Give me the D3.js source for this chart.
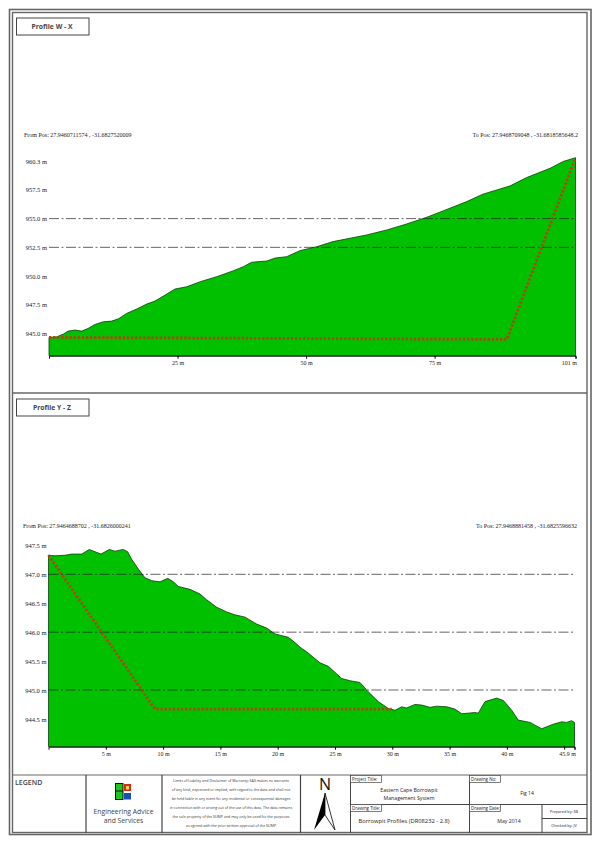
<!DOCTYPE html>
<html>
<head>
<meta charset="utf-8">
<script src="https://cdnjs.cloudflare.com/ajax/libs/d3/7.8.5/d3.min.js"></script>
<style>
  body { margin: 0; background: #fff; }
  svg { display: block; }
</style>
</head>
<body>
<div id="elements"></div>
<script>
// Profile W - X: distance (m), ground elevation (m)
const wxDistance = [0, 1.5, 2.8, 3.75, 5.06, 6.36, 7.59, 8.95, 10.56, 12.2, 13.5, 15.1, 17.06, 19, 20.6, 22.6, 24.5,
  26.8, 29.4, 32.6, 35.9, 37.8, 39.4, 42.35, 44, 46.25, 48.8, 52.1, 55.25, 58.56, 61.8, 65.7, 69.6, 73.5, 76.65,
  81.25, 84.4, 89.7, 92.9, 97.5, 100, 102.4];
const wxGround = [944.66, 944.71, 944.95, 945.21, 945.3, 945.21, 945.44, 945.79, 946.02, 946.08, 946.28, 946.75,
  947.13, 947.56, 947.82, 948.35, 948.87, 949.07, 949.51, 949.94, 950.47, 950.82, 951.2, 951.31, 951.57, 951.69,
  952.21, 952.56, 953, 953.29, 953.58, 954.01, 954.54, 955.12, 955.67, 956.48, 957.13, 957.85, 958.57, 959.39,
  959.97, 960.3];
const wxDesignDistance = [0, 89.05, 102.4];
const wxDesignLevel = [944.66, 944.49, 960.3];
const wxYTicks = [945, 947.5, 950, 952.5, 955, 957.5, 960.3];
const wxYLabels = ["945.0 m", "947.5 m", "950.0 m", "952.5 m", "955.0 m", "957.5 m", "960.3 m"];
const wxXTicks = [25, 50, 75, 102.4];
const wxXLabels = ["25 m", "50 m", "75 m", "101 m"];
const wxGrid = [952.5, 955];

// Profile Y - Z: distance (m), ground elevation (m)
const yzDistance = [0, 0.57, 1.44, 2.02, 2.9, 3.56, 4.06, 4.58, 5.31, 5.8, 6.53, 6.91, 7.26, 7.84, 8.42, 9, 9.73,
  10.4, 10.9, 11.33, 12.35, 13.22, 13.8, 14.68, 15.55, 16.27, 17.15, 18.17, 19.04, 19.76, 20.93, 21.51, 21.95,
  22.53, 23.69, 24.42, 25.58, 26.31, 27.18, 27.9, 28.78, 29.65, 30.24, 30.82, 31.25, 31.98, 32.57, 33.29, 33.87,
  34.75, 35.47, 36.06, 37.22, 37.5, 38.09, 39.11, 39.69, 40.42, 40.99, 42.02, 43.03, 44.05, 44.78, 45.22, 45.65,
  45.9];
const yzGround = [947.33, 947.32, 947.33, 947.35, 947.35, 947.43, 947.39, 947.35, 947.43, 947.4, 947.43, 947.39,
  947.26, 947.09, 946.94, 946.89, 946.87, 946.93, 946.87, 946.79, 946.74, 946.66, 946.56, 946.43, 946.35, 946.3,
  946.26, 946.14, 946.07, 945.97, 945.91, 945.82, 945.74, 945.66, 945.47, 945.41, 945.2, 945.16, 945.13, 944.97,
  944.8, 944.68, 944.65, 944.71, 944.69, 944.75, 944.74, 944.7, 944.72, 944.71, 944.67, 944.59, 944.61, 944.6,
  944.8, 944.86, 944.82, 944.65, 944.48, 944.44, 944.33, 944.41, 944.45, 944.44, 944.47, 944.44];
const yzDesignDistance = [0, 9.29, 29.95];
const yzDesignLevel = [947.33, 944.67, 944.67];
const yzYTicks = [944.5, 945, 945.5, 946, 946.5, 947, 947.5];
const yzYLabels = ["944.5 m", "945.0 m", "945.5 m", "946.0 m", "946.5 m", "947.0 m", "947.5 m"];
const yzXTicks = [5, 10, 15, 20, 25, 30, 35, 40, 45, 45.9];
const yzXLabels = ["5 m", "10 m", "15 m", "20 m", "25 m", "30 m", "35 m", "40 m", "", "45.9 m"];
const yzGrid = [945, 946, 947];

const disclaimer = [
  "Limits of Liability and Disclaimer of Warranty: EAS makes no warrants",
  "of any kind, expressed or implied, with regard to the data and shall not",
  "be held liable in any event for any incidental or consequential damages",
  "in connection with or arising out of the use of this data. The data remains",
  "the sole property of the SUMP and may only be used for the purposes",
  "as agreed with the prior written approval of the SUMP"
];

const svg = d3.create("svg").attr("width", 601).attr("height", 851);
document.getElementById("elements").appendChild(svg.node());
svg.append("rect").attr("width", 601).attr("height", 851).attr("fill", "#fff");

const frameColor = "#666";
const serif = "'Liberation Serif', serif";
const sans = "'Open Sans', sans-serif";

const hline = (x1, x2, y, w = 1, c = "#444") => svg.append("line")
  .attr("x1", x1).attr("x2", x2).attr("y1", y).attr("y2", y).attr("stroke", c).attr("stroke-width", w);
const vline = (x, y1, y2, w = 1, c = "#444") => svg.append("line")
  .attr("x1", x).attr("x2", x).attr("y1", y1).attr("y2", y2).attr("stroke", c).attr("stroke-width", w);
const label = (text, x, y, size, anchor = "middle", weight = 400, family = sans, fill = "#222") => svg.append("text")
  .attr("x", x).attr("y", y).attr("font-size", size).attr("text-anchor", anchor)
  .attr("font-weight", weight).attr("font-family", family).attr("fill", fill).text(text);

// Sheet frame
svg.append("rect").attr("x", 9.5).attr("y", 9.5).attr("width", 581.5).attr("height", 825)
  .attr("fill", "none").attr("stroke", frameColor).attr("stroke-width", 1.6);
svg.append("rect").attr("x", 12.5).attr("y", 12.5).attr("width", 574.5).attr("height", 820)
  .attr("fill", "none").attr("stroke", frameColor).attr("stroke-width", 1.4);
hline(12.5, 587, 393, 1.4, frameColor);

const drawProfile = function (p) {
  const x = d3.scaleLinear().domain([0, p.xEnd]).range([p.left, p.right]);
  const y = d3.scaleLinear().domain([p.yBase, p.yTop]).range([p.bottom, p.top]);
  const ground = d3.zip(p.distance, p.level);
  const design = d3.zip(p.designDistance, p.designLevel);

  const area = d3.area().x((d) => x(d[0])).y0(p.bottom).y1((d) => y(d[1]));
  svg.append("path").datum(ground).attr("d", area)
    .attr("fill", "#00c000").attr("stroke", "#0a3d0a").attr("stroke-width", 0.8);

  svg.append("g").selectAll("line").data(p.grid).enter().append("line")
    .attr("x1", p.left).attr("x2", p.right)
    .attr("y1", (d) => y(d)).attr("y2", (d) => y(d))
    .attr("stroke", "#222").attr("stroke-width", 0.7)
    .attr("stroke-dasharray", "10 2.5 2 2.5");

  svg.append("path").datum(design)
    .attr("d", d3.line().x((d) => x(d[0])).y((d) => y(d[1])))
    .attr("fill", "none").attr("stroke", "#b8400f").attr("stroke-width", 2.8)
    .attr("stroke-dasharray", "2.2 1.9");

  const xAxis = svg.append("g").attr("transform", `translate(0,${p.bottom})`)
    .call(d3.axisBottom(x).tickValues(p.xTicks).tickSize(3).tickPadding(2)
      .tickFormat((d, i) => p.xLabels[i]));
  xAxis.select(".domain").attr("stroke", "#111").attr("stroke-width", 1);
  xAxis.selectAll("text").attr("font-family", serif).attr("font-size", 6).attr("fill", "#222");
  xAxis.selectAll(".tick").filter((d) => d === p.xEnd).select("text")
    .attr("text-anchor", "end").attr("dx", 1);

  const yAxis = svg.append("g").attr("transform", `translate(${p.left},0)`)
    .call(d3.axisLeft(y).tickValues(p.yTicks).tickSize(0).tickPadding(2)
      .tickFormat((d, i) => p.yLabels[i]));
  yAxis.select(".domain").remove();
  yAxis.selectAll("text").attr("font-family", serif).attr("font-size", 6.5).attr("fill", "#222");
  // The top label of the first profile sits just under the peak of the plot
  yAxis.selectAll(".tick").filter((d) => d === p.yClamp).select("text").attr("dy", "0.9em");

  label(p.fromPos, p.fromX, p.posY, 6, "start", 400, serif);
  label(p.toPos, p.toX, p.posY, 6, "end", 400, serif);

  svg.append("rect").attr("x", 16.5).attr("y", p.boxY).attr("width", 72.5).attr("height", 17)
    .attr("fill", "#fff").attr("stroke", "#444").attr("stroke-width", 1);
  label(p.title, 52, p.boxY + 11.3, 6.8, "middle", 700, sans, "#444");
};

drawProfile({
  distance: wxDistance, level: wxGround, designDistance: wxDesignDistance, designLevel: wxDesignLevel,
  xEnd: 102.4, yBase: 943.07, yTop: 960.3, left: 49, right: 575.5, top: 157.7, bottom: 355.7,
  xTicks: wxXTicks, xLabels: wxXLabels, yTicks: wxYTicks, yLabels: wxYLabels, grid: wxGrid, yClamp: 960.3,
  title: "Profile W - X", boxY: 18,
  fromPos: "From Pos: 27.9460711574 , -31.6827520009", toPos: "To Pos: 27.9468709048 , -31.6818585648.2",
  fromX: 24, toX: 578, posY: 137
});

drawProfile({
  distance: yzDistance, level: yzGround, designDistance: yzDesignDistance, designLevel: yzDesignLevel,
  xEnd: 45.9, yBase: 944.02, yTop: 947.5, left: 48.5, right: 574.5, top: 545.4, bottom: 746.7,
  xTicks: yzXTicks, xLabels: yzXLabels, yTicks: yzYTicks, yLabels: yzYLabels, grid: yzGrid, yClamp: null,
  title: "Profile Y - Z", boxY: 399,
  fromPos: "From Pos: 27.9464688702 , -31.6826000241", toPos: "To Pos: 27.9468881458 , -31.6825596632",
  fromX: 23, toX: 577, posY: 528
});

// Title block
hline(12.5, 587, 775, 1.2, frameColor);
vline(86, 775, 833, 1.2);
vline(162, 775, 833, 1.2);
vline(300.5, 775, 833, 1.2);
vline(350.5, 775, 833, 1);
vline(469.5, 775, 833, 1);
vline(542, 804.5, 833, 1);
hline(350.5, 587, 804.5, 1);
hline(542, 587, 818.5, 1);

label("LEGEND", 15, 785, 7, "start", 600, sans, "#444");

// Logo
svg.append("rect").attr("x", 115.5).attr("y", 783.5).attr("width", 7.5).attr("height", 16)
  .attr("fill", "#1fc41f").attr("stroke", "#111").attr("stroke-width", 1);
hline(116, 123, 791, 1, "#111");
svg.append("rect").attr("x", 124).attr("y", 784).attr("width", 7).attr("height", 7).attr("fill", "#d62a1c");
svg.append("rect").attr("x", 126).attr("y", 786).attr("width", 3).attr("height", 3.5).attr("fill", "#f4d64a");
svg.append("rect").attr("x", 124).attr("y", 793).attr("width", 7).attr("height", 6.5).attr("fill", "#1b4fb5");
label("Engineering Advice", 123.5, 814, 6.8, "middle", 400, sans, "#444");
label("and Services", 123.5, 823, 6.8, "middle", 400, sans, "#444");

// Disclaimer
svg.append("g").selectAll("text").data(disclaimer).enter().append("text")
  .attr("x", 231).attr("y", (d, i) => 781.5 + i * 9)
  .attr("text-anchor", "middle").attr("font-family", sans).attr("font-size", 3.6).attr("fill", "#333")
  .text((d) => d);

// North arrow
label("N", 325, 790, 16, "middle", 400, sans, "#111");
svg.append("path").attr("d", "M325,793L314,830L325,815Z").attr("fill", "#000");
svg.append("path").attr("d", "M325,793L335,830L325,815Z").attr("fill", "#fff").attr("stroke", "#000").attr("stroke-width", 0.8);

// Drawing info
const tag = (text, x, y, w) => {
  svg.append("rect").attr("x", x).attr("y", y).attr("width", w).attr("height", 7)
    .attr("fill", "#fff").attr("stroke", "#444").attr("stroke-width", 0.7);
  label(text, x + 1.5, y + 5.2, 4.4, "start");
};
tag("Project Title:", 350.5, 775.5, 31);
tag("Drawing No:", 469.5, 775.5, 31);
tag("Drawing Title:", 350.5, 804.5, 31);
tag("Drawing Date:", 469.5, 804.5, 31);

label("Eastern Cape Borrowpit", 409, 792, 5.2, "middle");
label("Management System", 409, 799.5, 5.2, "middle");
label("Fig 14", 527, 794.5, 5, "middle");
label("Borrowpit Profiles (DR08232 - 2.8)", 404, 823, 5.8, "middle");
label("May 2014", 509, 823, 5.2, "middle");
label("Prepared by: SB", 564, 812.5, 3.8, "middle");
label("Checked by: JV", 564, 827, 3.8, "middle");
</script>
</body>
</html>
